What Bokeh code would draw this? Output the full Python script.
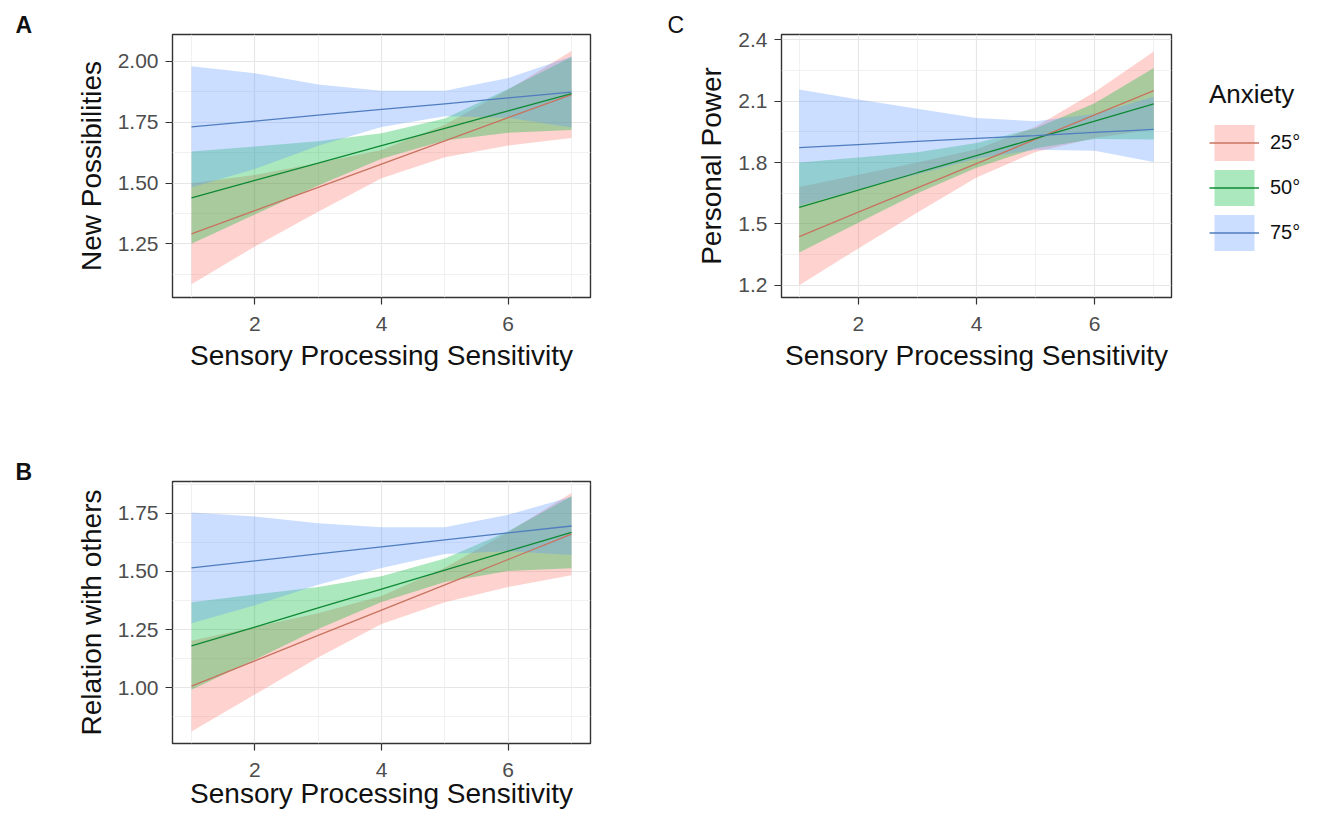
from bokeh.plotting import figure
from bokeh.layouts import column, row
from bokeh.models import (FixedTicker, Legend, LegendItem, Range1d,
                          ColumnDataSource, PrintfTickFormatter)
from bokeh.embed import file_html
from bokeh.resources import INLINE

# ---------------- data ----------------
sps = [1, 2, 3, 4, 5, 6, 7]
anxiety_levels = ["25°", "50°", "75°"]

# Panel A: New Possibilities
a_fit_25 = [1.291, 1.386, 1.482, 1.578, 1.673, 1.769, 1.864]
a_lo_25 = [1.083, 1.239, 1.382, 1.520, 1.606, 1.654, 1.685]
a_hi_25 = [1.499, 1.533, 1.582, 1.636, 1.740, 1.884, 2.043]
a_fit_50 = [1.439, 1.511, 1.582, 1.654, 1.725, 1.797, 1.868]
a_lo_50 = [1.250, 1.370, 1.490, 1.600, 1.675, 1.707, 1.718]
a_hi_50 = [1.630, 1.650, 1.672, 1.705, 1.765, 1.887, 2.018]
a_fit_75 = [1.731, 1.755, 1.779, 1.803, 1.826, 1.850, 1.874]
a_lo_75 = [1.482, 1.558, 1.653, 1.730, 1.775, 1.768, 1.728]
a_hi_75 = [1.980, 1.952, 1.905, 1.880, 1.880, 1.932, 2.020]

# Panel B: Relation with others
b_fit_25 = [1.007, 1.116, 1.225, 1.334, 1.442, 1.551, 1.660]
b_lo_25 = [0.812, 0.971, 1.130, 1.274, 1.368, 1.433, 1.483]
b_hi_25 = [1.202, 1.261, 1.320, 1.394, 1.516, 1.669, 1.837]
b_fit_50 = [1.180, 1.261, 1.343, 1.424, 1.505, 1.587, 1.668]
b_lo_50 = [0.992, 1.121, 1.253, 1.369, 1.455, 1.502, 1.513]
b_hi_50 = [1.368, 1.401, 1.433, 1.479, 1.555, 1.672, 1.823]
b_fit_75 = [1.515, 1.545, 1.575, 1.605, 1.635, 1.665, 1.695]
b_lo_75 = [1.277, 1.355, 1.443, 1.515, 1.575, 1.587, 1.570]
b_hi_75 = [1.753, 1.736, 1.707, 1.690, 1.690, 1.743, 1.820]

# Panel C: Personal Power
c_fit_25 = [1.438, 1.557, 1.676, 1.795, 1.914, 2.033, 2.152]
c_lo_25 = [1.200, 1.380, 1.556, 1.727, 1.852, 1.920, 1.962]
c_hi_25 = [1.680, 1.740, 1.800, 1.865, 1.975, 2.145, 2.343]
c_fit_50 = [1.581, 1.665, 1.750, 1.834, 1.918, 2.003, 2.087]
c_lo_50 = [1.360, 1.505, 1.650, 1.775, 1.870, 1.915, 1.912]
c_hi_50 = [1.800, 1.825, 1.850, 1.895, 1.968, 2.090, 2.262]
c_fit_75 = [1.873, 1.888, 1.903, 1.918, 1.932, 1.947, 1.962]
c_lo_75 = [1.589, 1.668, 1.743, 1.818, 1.862, 1.857, 1.802]
c_hi_75 = [2.157, 2.108, 2.063, 2.018, 2.002, 2.037, 2.122]

x_ticks = [2, 4, 6]
x_minor = [1, 3, 5, 7]
a_ticks = [1.25, 1.50, 1.75, 2.00]
a_minor = [1.125, 1.375, 1.625, 1.875]
b_ticks = [1.00, 1.25, 1.50, 1.75]
b_minor = [0.875, 1.125, 1.375, 1.625, 1.875]
c_ticks = [1.2, 1.5, 1.8, 2.1, 2.4]
c_minor = [1.35, 1.65, 1.95, 2.25]

x_title = "Sensory Processing Sensitivity"

# ---------------- style ----------------
FONT = "Liberation Sans"
FILL = ["#F8766D", "#00BA38", "#619CFF"]
LINE = ["#C8735F", "#0E8A34", "#4F7DBE"]
ALPHA = 0.33


def make_fig(ylabel, yr, yticks, yminor, fmt, lb, rb, tb, bb, fw, fh, xlab_standoff=6):
    p = figure(frame_width=fw, frame_height=fh, x_range=Range1d(0.7, 7.3),
               y_range=Range1d(*yr), output_backend="svg", toolbar_location=None,
               min_border_left=lb, min_border_right=rb, min_border_top=tb,
               min_border_bottom=bb, background_fill_color="white",
               border_fill_color="white")
    p.outline_line_color = "#333333"
    p.outline_line_width = 1.4
    p.xaxis.ticker = FixedTicker(ticks=x_ticks, minor_ticks=x_minor)
    p.yaxis.ticker = FixedTicker(ticks=yticks, minor_ticks=yminor)
    p.yaxis.formatter = PrintfTickFormatter(format=fmt)
    p.xaxis.formatter = PrintfTickFormatter(format="%d")
    p.xaxis.axis_label = x_title
    p.yaxis.axis_label = ylabel
    for ax in p.axis:
        ax.axis_line_color = None
        ax.major_tick_line_color = "#333333"
        ax.major_tick_line_width = 1.2
        ax.major_tick_out = 7
        ax.major_tick_in = 0
        ax.minor_tick_line_color = None
        ax.major_label_text_font = FONT
        ax.major_label_text_font_size = "21px"
        ax.major_label_text_color = "#4D4D4D"
        ax.axis_label_text_font = FONT
        ax.axis_label_text_font_size = "28px"
        ax.axis_label_text_font_style = "normal"
        ax.axis_label_text_color = "#111111"
    p.xaxis.major_label_standoff = 12
    p.xaxis.axis_label_standoff = xlab_standoff
    p.yaxis.major_label_standoff = 7
    p.yaxis.axis_label_standoff = 8
    p.grid.grid_line_color = "#E6E6E6"
    p.grid.grid_line_width = 1.2
    p.grid.minor_grid_line_color = "#EDEDED"
    p.grid.minor_grid_line_width = 0.8
    return p


def add_series(p, fits, los, his):
    items = []
    areas = []
    for i in range(3):
        src = ColumnDataSource(dict(x=sps, lo=los[i], hi=his[i]))
        areas.append(p.varea(x="x", y1="lo", y2="hi", source=src,
                             fill_color=FILL[i], fill_alpha=ALPHA))
    for i in range(3):
        src = ColumnDataSource(dict(x=sps, y=fits[i]))
        ln = p.line(x="x", y="y", source=src, line_color=LINE[i], line_width=1.3)
        items.append(LegendItem(label=anxiety_levels[i], renderers=[areas[i], ln]))
    return items


def panel_letter(p, txt, offset, style):
    p.title.text = txt
    p.title.align = "left"
    p.title.offset = offset
    p.title.standoff = -6
    p.title.vertical_align = "bottom"
    p.title.text_font = FONT
    p.title.text_font_size = "23px"
    p.title.text_font_style = style
    p.title.text_color = "#111111"


# Panel A
pA = make_fig("New Possibilities", (1.029, 2.111), a_ticks, a_minor, "%.2f",
              172, 40, 34, 103, 418, 263)
add_series(pA, [a_fit_25, a_fit_50, a_fit_75], [a_lo_25, a_lo_50, a_lo_75],
           [a_hi_25, a_hi_50, a_hi_75])
panel_letter(pA, "A", -157, "bold")

# Panel C
pC = make_fig("Personal Power", (1.14, 2.426), c_ticks, c_minor, "%.1f",
              151, 138, 34, 103, 390, 263)
itemsC = add_series(pC, [c_fit_25, c_fit_50, c_fit_75], [c_lo_25, c_lo_50, c_lo_75],
                    [c_hi_25, c_hi_50, c_hi_75])
legend = Legend(items=itemsC, title="Anxiety", location=(38, 42),
                title_text_font=FONT, title_text_font_size="26px",
                title_text_font_style="normal", title_text_color="#111111",
                label_text_font=FONT, label_text_font_size="20px",
                label_text_color="#111111", glyph_width=50, glyph_height=45,
                spacing=0, label_standoff=11, padding=0, margin=0,
                border_line_color=None, background_fill_alpha=0,
                title_standoff=10)
pC.add_layout(legend, "right")
panel_letter(pC, "C", -114, "normal")

# Panel B
pB = make_fig("Relation with others", (0.761, 1.886), b_ticks, b_minor, "%.2f",
              172, 40, 81, 70, 418, 262, xlab_standoff=-2)
add_series(pB, [b_fit_25, b_fit_50, b_fit_75], [b_lo_25, b_lo_50, b_lo_75],
           [b_hi_25, b_hi_50, b_hi_75])
panel_letter(pB, "B", -157, "bold")

layout = column(row(pA, pC), pB)
open("out.html", "w").write(file_html(layout, INLINE))
